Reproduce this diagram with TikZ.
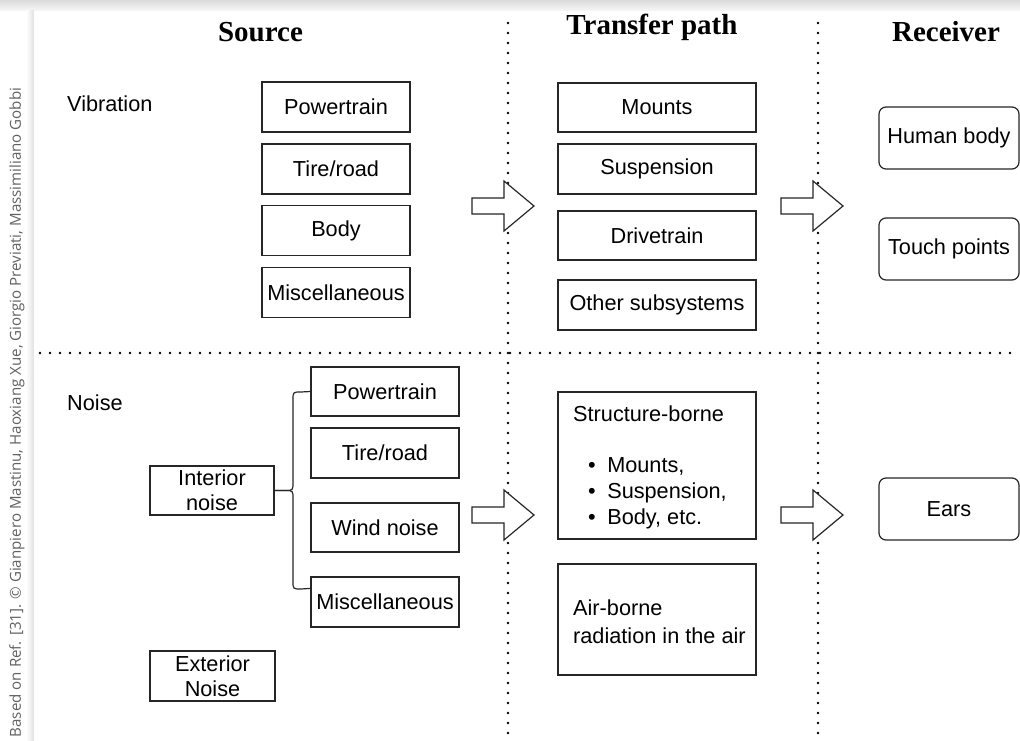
\documentclass[tikz,border=0pt]{standalone}
\usepackage{fontspec}
\setmainfont{Liberation Sans}
\newfontfamily\hdrfont{Liberation Serif}
\newfontfamily\credfont{Open Sans}
\usetikzlibrary{calc}
\begin{document}
\begin{tikzpicture}[x=1pt,y=-1pt,
 box/.style={draw=black!85, line width=1.2pt, inner sep=0pt, font=\fontsize{21.7}{25}\selectfont, align=center},
 rbox/.style={box, rounded corners=7pt},
 lbl/.style={inner sep=0pt, anchor=base west, font=\fontsize{21.7}{25}\selectfont},
 hdr/.style={inner sep=0pt, anchor=base, font=\fontsize{29}{32}\selectfont\hdrfont\bfseries},
 sep/.style={line width=2.6pt, line cap=round, dash pattern=on 0pt off 10pt, black},
 barrow/.style={draw=black!85, line width=1.2pt, fill=white, line join=miter},
 brace/.style={draw=black!85, line width=1.2pt}
]
\useasboundingbox (0,0) rectangle (1020,741);
% background
\fill[white] (0,0) rectangle (1020,741);
\shade[top color=black!14, bottom color=black!3] (0,0) rectangle (1020,11);
\shade[left color=white, right color=black!12] (26,11) rectangle (34,741);
\fill[white] (34,11) rectangle (1020,741);

% credit
\node[rotate=90, text=black!62, font=\fontsize{15.1}{17}\selectfont\credfont, inner sep=0pt] (credit) at (17,412.5)
 {Based on Ref. [31]. © Gianpiero Mastinu, Haoxiang Xue, Giorgio Previati, Massimiliano Gobbi};

% separators
\coordinate (v1t) at (508,23); \coordinate (v1b) at (508,741);
\coordinate (v2t) at (818,23); \coordinate (v2b) at (818,741);
\coordinate (hl) at (40,353); \coordinate (hr) at (1020,353);
\draw[sep] (v1t) -- (v1b);
\draw[sep] (v2t) -- (v2b);
\draw[sep] (hl) -- (hr);

% headers
\node[hdr] (hsrc) at (260.5,42) {Source};
\node[hdr] (htp) at (652,35) {Transfer path};
\node[hdr] (hrec) at (946,42) {Receiver};

% labels
\node[lbl] (lvib) at (67,112) {Vibration};
\node[lbl] (lnoise) at (67,410) {Noise};

% vibration sources
\node[box, minimum width=148pt, minimum height=50pt] (vpt) at (336,107) {Powertrain};
\node[box, minimum width=148pt, minimum height=50pt] (vtr) at (336,169) {Tire/road};
\node[box, minimum width=148pt, minimum height=50pt] (vbo) at (336,230.5) {Body};
\node[box, minimum width=148pt, minimum height=50pt] (vmi) at (336,292.5) {Miscellaneous};

% vibration transfer paths
\node[box, minimum width=198pt, minimum height=49pt] (tmo) at (657,107.5) {Mounts};
\node[box, minimum width=198pt, minimum height=50pt] (tsu) at (657,169) {Suspension};
\node[box, minimum width=198pt, minimum height=49pt] (tdr) at (657,235.5) {Drivetrain};
\node[box, minimum width=198pt, minimum height=50pt] (tot) at (657,305) {Other subsystems};

% receivers
\node[rbox, minimum width=140pt, minimum height=62pt] (rhb) at (949,138) {Human body};
\node[rbox, minimum width=140pt, minimum height=62pt] (rtp) at (949,249) {Touch points};
\node[rbox, minimum width=140pt, minimum height=62pt] (rea) at (949,509) {Ears};

% noise sources
\node[box, minimum width=124pt, minimum height=49pt] (int) at (212,490.5) {Interior\\noise};
\node[box, minimum width=125pt, minimum height=50pt] (ext) at (212.5,676) {Exterior\\Noise};
\node[box, minimum width=148pt, minimum height=49pt] (npt) at (385,391.5) {Powertrain};
\node[box, minimum width=148pt, minimum height=50pt] (ntr) at (385,453) {Tire/road};
\node[box, minimum width=148pt, minimum height=49pt] (nwi) at (385,527.5) {Wind noise};
\node[box, minimum width=148pt, minimum height=50pt] (nmi) at (385,602) {Miscellaneous};

% brace
\coordinate (bb) at ($(nmi.north west)+(0,12)$);
\draw[brace] (int.east) -- (285,490.5) .. controls (293,490.5) .. (293,482) -- (293,400) .. controls (293,392) .. (301,392) -- (npt.west);
\draw[brace] (int.east) -- (285,490.5) .. controls (293,490.5) .. (293,499) -- (293,581) .. controls (293,589) .. (301,589) -- (bb);

% noise transfer paths
\node[box, minimum width=198pt, minimum height=147pt] (tsb) at (657,465.5) {};
\node[lbl] (tsbt) at (573,421) {Structure-borne};
\node[lbl] (b1) at (588,472) {\textbullet\hspace{11.5pt}Mounts,};
\node[lbl] (b2) at (588,498) {\textbullet\hspace{11.5pt}Suspension,};
\node[lbl] (b3) at (588,524) {\textbullet\hspace{11.5pt}Body, etc.};
\node[box, minimum width=198pt, minimum height=111pt] (tab) at (657,619.5) {};
\node[lbl] (tab1) at (573,615) {Air-borne};
\node[lbl] (tab2) at (573,643) {radiation in the air};

% block arrows
\coordinate (a1) at (472,206);
\coordinate (a2) at (781,206);
\coordinate (a3) at (472,515);
\coordinate (a4) at (781,515);
\foreach \a in {a1,a2,a3,a4}{
  \draw[barrow] (\a) ++(0,-8) -- ++(32,0) -- ++(0,-17) -- ++(30,25) -- ++(-30,25) -- ++(0,-17) -- ++(-32,0) -- cycle;
}
\end{tikzpicture}
\end{document}
